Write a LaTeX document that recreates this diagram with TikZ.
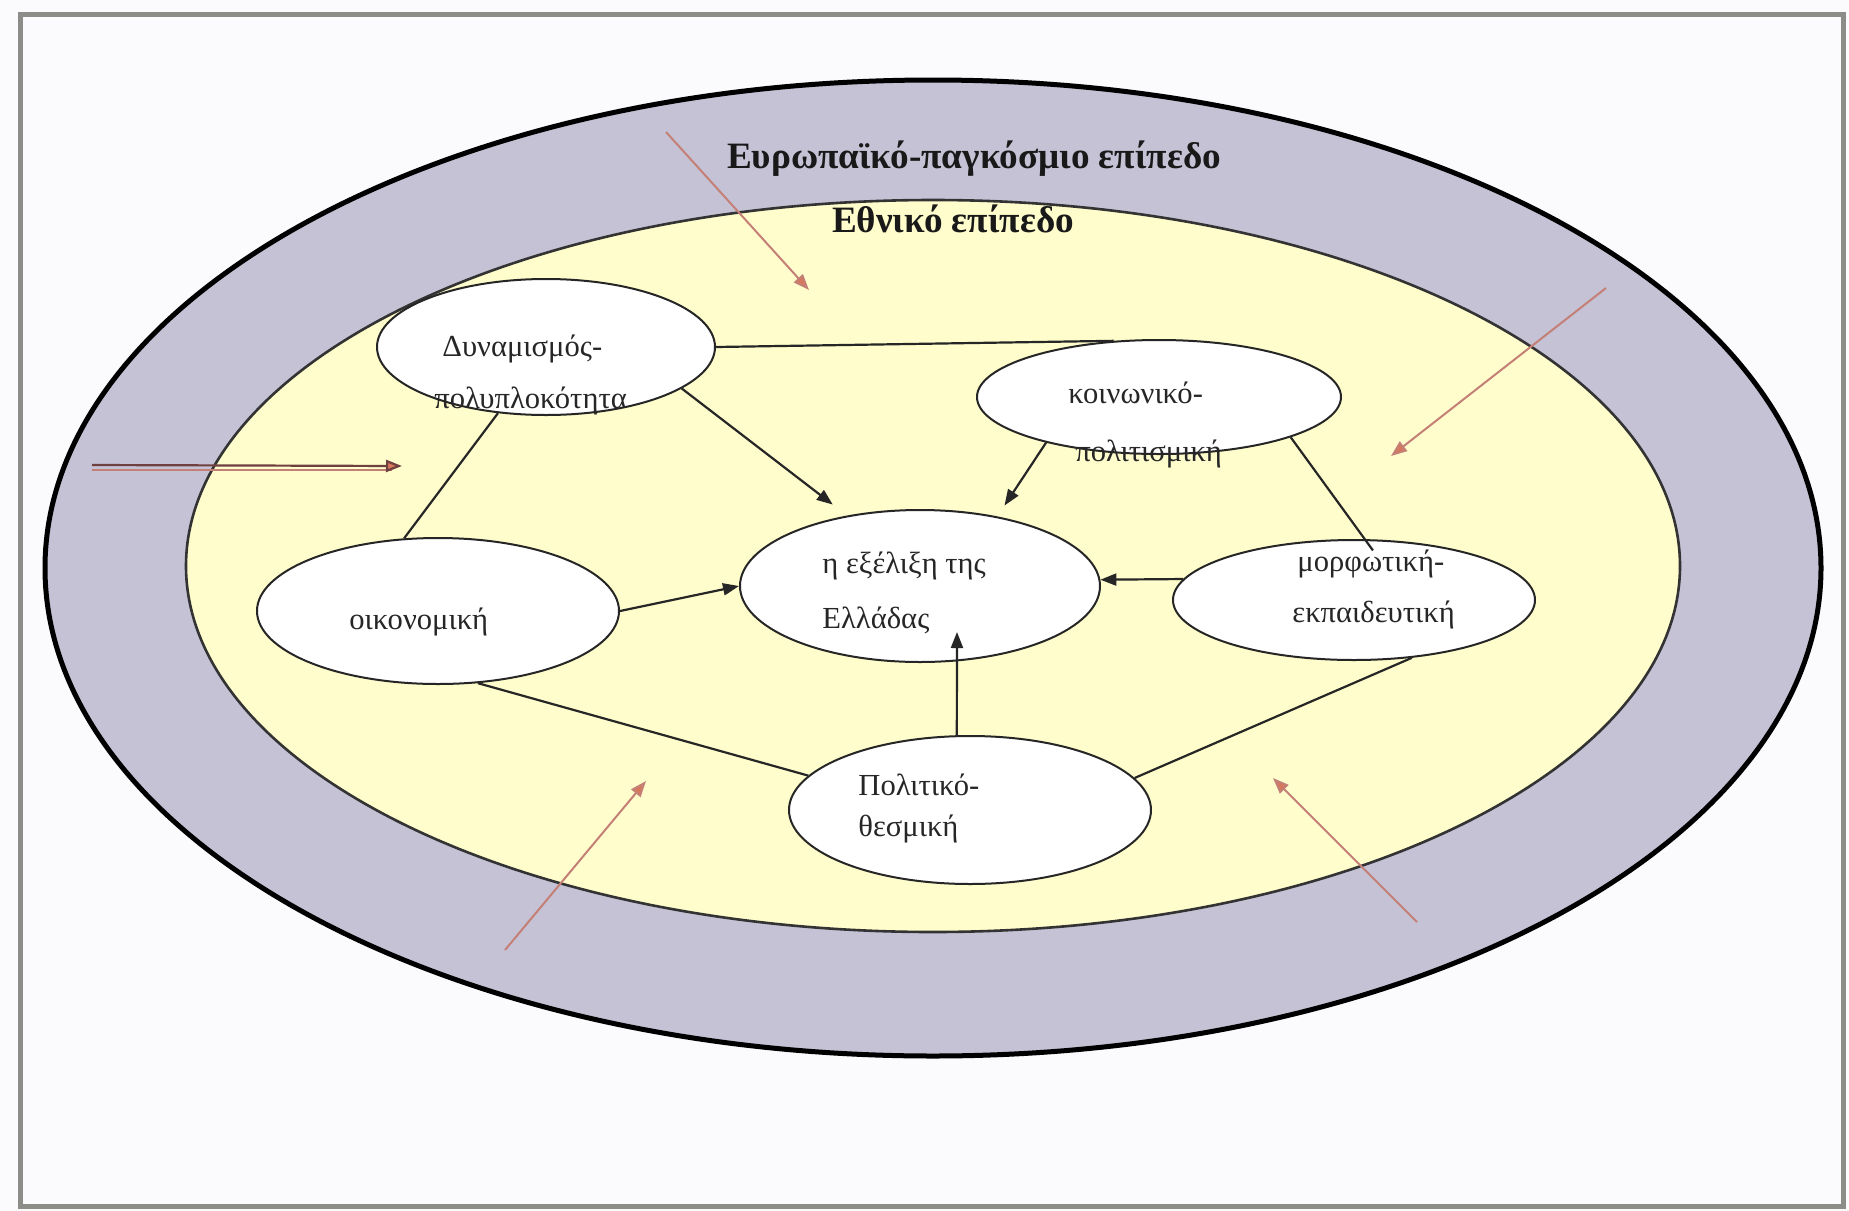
\documentclass[tikz,border=0pt]{standalone}
\usepackage{fontspec}
\setmainfont{Liberation Serif}
\usetikzlibrary{shapes.geometric,arrows.meta}
\definecolor{bgc}{RGB}{251,250,252}
\definecolor{framec}{RGB}{140,140,136}
\definecolor{outerc}{RGB}{196,194,212}
\definecolor{innerc}{RGB}{255,253,204}
\definecolor{redl}{RGB}{196,128,118}
\definecolor{redh}{RGB}{214,120,92}
\definecolor{darkred}{RGB}{112,64,64}
\tikzset{
 oval/.style={ellipse, draw=black!85, line width=1pt, fill=white, inner sep=0pt},
 txt/.style={anchor=base west, inner sep=0pt, font=\fontsize{15.3}{18}\selectfont, text=black!85},
 lvl/.style={anchor=base, inner sep=0pt, font=\fontsize{18.6}{22}\selectfont\bfseries, text=black!90},
 link/.style={line width=1.1pt, draw=black!85},
 arr/.style={link, -{Triangle[length=8pt,width=6pt]}},
 infl/.style={line width=1pt, draw=redl, -{Triangle[length=8pt,width=6pt,fill=redh]}},
}
\begin{document}
\begin{tikzpicture}[x=0.5pt,y=-0.5pt]
\fill[bgc] (0,0) rectangle (1849,1211);
\useasboundingbox (0,0) rectangle (1849,1211);
\draw[framec, line width=2.5pt] (20,14) rectangle (1843,1206);
\draw[black, line width=2.5pt, fill=outerc] (933,568) ellipse [x radius=888, y radius=488];
\draw[black!80, line width=1.3pt, fill=innerc] (933,566) ellipse [x radius=747, y radius=366];

\node[lvl] (eu) at (974,168) {Ευρωπαϊκό-παγκόσμιο επίπεδο};
\node[lvl] (nat) at (953,232) {Εθνικό επίπεδο};

\node[oval, minimum width=169pt, minimum height=68pt] (dyn) at (546,347) {};
\node[oval, minimum width=182pt, minimum height=57pt] (koin) at (1159,397) {};
\node[oval, minimum width=181pt, minimum height=73pt] (oikon) at (438,611) {};
\node[oval, minimum width=180pt, minimum height=76pt] (ctr) at (920,586) {};
\node[oval, minimum width=181pt, minimum height=60pt] (morf) at (1354,600) {};
\node[oval, minimum width=181pt, minimum height=74pt] (polit) at (970,810) {};

\draw[arr, shorten >=9pt] (dyn.-17) -- (ctr.136);
\draw[link] (dyn.east) -- (koin.129);
\draw[link] (dyn.234) -- (oikon.115);
\draw[arr, shorten >=6.5pt] (koin.202) -- (ctr.42);
\draw[link, shorten >=-7pt] (koin.-17) -- (morf.80);
\draw[arr] (oikon.east) -- (ctr.west);
\draw[arr] (morf.173) -- (ctr.2);
\coordinate (ctrtip) at (957,632);
\draw[arr] (polit.100) -- (ctrtip);
\draw[link] (polit.168) -- (oikon.-61);
\draw[link] (polit.11) -- (morf.-45);

\node[txt] (dynA) at (442,356) {Δυναμισμός-};
\node[txt] (dynB) at (434,408) {πολυπλοκότητα};
\node[txt] (koinA) at (1068,403) {κοινωνικό-};
\node[txt] (koinB) at (1075,461) {πολιτισμική};
\node[txt] (oikA) at (349,629) {οικονομική};
\node[txt] (ctrA) at (822,573) {η εξέλιξη της};
\node[txt] (ctrB) at (822,628) {Ελλάδας};
\node[txt] (morfA) at (1297,571) {μορφωτική-};
\node[txt] (morfB) at (1292,622) {εκπαιδευτική};
\node[txt] (polA) at (858,795) {Πολιτικό-};
\node[txt] (polB) at (858,836) {θεσμική};

\coordinate (r1a) at (666,132); \coordinate (r1b) at (809,290);
\coordinate (r2a) at (1606,288); \coordinate (r2b) at (1391,456);
\coordinate (r3a) at (92,465); \coordinate (r3b) at (402,466);
\coordinate (r3c) at (92,470); \coordinate (r3d) at (392,470);
\coordinate (r4a) at (505,950); \coordinate (r4b) at (646,781);
\coordinate (r5a) at (1417,922); \coordinate (r5b) at (1273,778);
\draw[infl] (r1a) -- (r1b);
\draw[infl] (r2a) -- (r2b);
\draw[line width=1pt, redl] (r3c) -- (r3d);
\draw[line width=1.1pt, darkred, -{Triangle[length=8pt,width=6pt,fill=redh]}] (r3a) -- (r3b);
\draw[infl] (r4a) -- (r4b);
\draw[infl] (r5a) -- (r5b);
\end{tikzpicture}
\end{document}
